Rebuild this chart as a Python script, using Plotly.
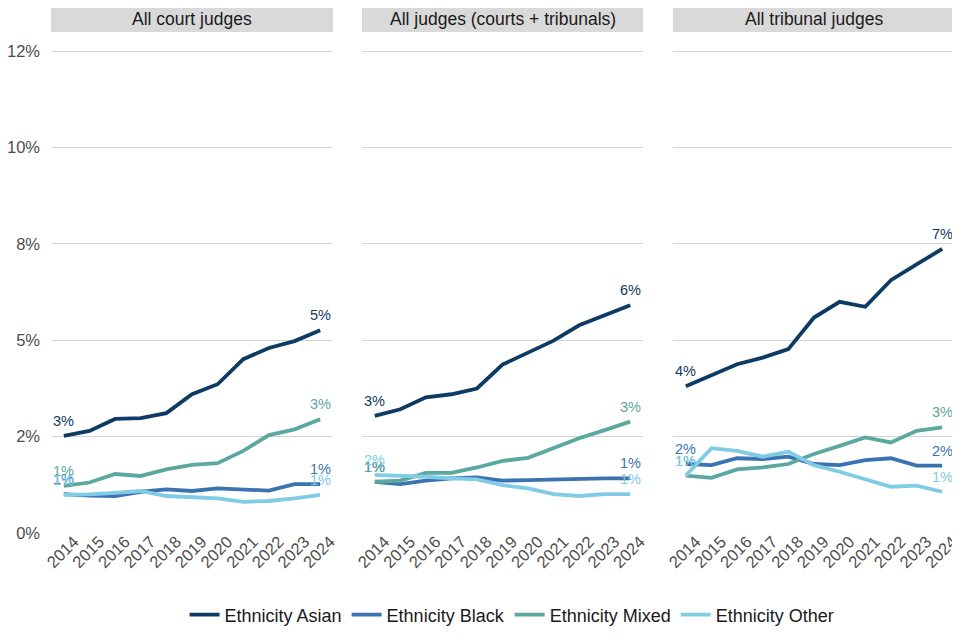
import plotly.graph_objects as go

years = [2014, 2015, 2016, 2017, 2018, 2019, 2020, 2021, 2022, 2023, 2024]
panels = ["All court judges", "All judges (courts + tribunals)", "All tribunal judges"]
series_names = ["Ethnicity Asian", "Ethnicity Black", "Ethnicity Mixed", "Ethnicity Other"]

# values in percent
court_asian = [2.52, 2.65, 2.96, 2.98, 3.11, 3.60, 3.86, 4.51, 4.80, 4.98, 5.26]
court_black = [1.01, 0.97, 0.96, 1.07, 1.13, 1.09, 1.16, 1.13, 1.10, 1.27, 1.27]
court_mixed = [1.22, 1.31, 1.53, 1.48, 1.65, 1.77, 1.81, 2.13, 2.54, 2.69, 2.95]
court_other = [0.99, 1.00, 1.04, 1.09, 0.96, 0.94, 0.90, 0.81, 0.83, 0.90, 0.99]

all_asian = [3.04, 3.21, 3.52, 3.60, 3.75, 4.37, 4.68, 4.99, 5.39, 5.65, 5.91]
all_black = [1.33, 1.27, 1.36, 1.42, 1.44, 1.36, 1.37, 1.39, 1.39, 1.42, 1.42]
all_mixed = [1.33, 1.36, 1.56, 1.56, 1.70, 1.87, 1.95, 2.20, 2.46, 2.67, 2.89]
all_other = [1.51, 1.49, 1.46, 1.42, 1.39, 1.24, 1.16, 1.01, 0.96, 1.01, 1.01]

trib_asian = [3.81, 4.10, 4.38, 4.55, 4.77, 5.59, 6.00, 5.87, 6.56, 6.97, 7.37]
trib_black = [1.79, 1.76, 1.94, 1.92, 1.98, 1.79, 1.76, 1.89, 1.94, 1.75, 1.75]
trib_mixed = [1.49, 1.43, 1.65, 1.70, 1.79, 2.05, 2.26, 2.48, 2.35, 2.65, 2.74]
trib_other = [1.49, 2.20, 2.13, 1.98, 2.11, 1.76, 1.59, 1.39, 1.20, 1.23, 1.07]

y_tickvals = [0, 2.5, 5, 7.5, 10, 12.5]
y_ticktext = ["0%", "2%", "5%", "8%", "10%", "12%"]

colors = ["#0E3B63", "#3B73B1", "#5BA8A0", "#80CBE6"]

data = [
    [court_asian, court_black, court_mixed, court_other],
    [all_asian, all_black, all_mixed, all_other],
    [trib_asian, trib_black, trib_mixed, trib_other],
]

# page body has an 8px margin; lay the figure out in window pixels minus that
OFF = 8
W, H = 960 - OFF, 640 - OFF
ML = 51 - OFF
MT = 32 - OFF
MR = W - (955 - OFF)
MB = H - (533 - OFF)
PW = W - ML - MR
PH = H - MT - MB
px_domains = [(51, 333), (362, 643), (673, 955)]
domains = [((a - OFF - ML) / PW, (b - OFF - ML) / PW) for a, b in px_domains]

FONT = "Liberation Sans, Arial, sans-serif"

fig = go.Figure()
annotations = []
shapes = []

for p, (panel, dom) in enumerate(zip(panels, domains)):
    xa = "x" if p == 0 else f"x{p+1}"
    ya = "y" if p == 0 else f"y{p+1}"
    for s, name in enumerate(series_names):
        vals = data[p][s]
        fig.add_trace(go.Scatter(
            x=years, y=vals, mode="lines", name=name,
            line=dict(color=colors[s], width=3.8),
            xaxis=xa, yaxis=ya, legendgroup=name, showlegend=(p == 0),
            hoverinfo="skip", cliponaxis=False,
        ))
        for idx in (0, -1):
            annotations.append(dict(
                x=years[idx], y=vals[idx], xref=xa, yref=ya,
                text=f"{int(vals[idx] + 0.5)}%", showarrow=False,
                yshift=15, font=dict(size=14.5, color=colors[s], family=FONT),
            ))
    # strip
    shapes.append(dict(type="rect", xref="paper", yref="paper",
                       x0=dom[0], x1=dom[1], y0=1, y1=1 + 27 / PH,
                       fillcolor="#D9D9D9", line=dict(width=0), layer="below"))
    annotations.append(dict(x=(dom[0] + dom[1]) / 2, y=1 + 13.5 / PH, xref="paper", yref="paper",
                            text=panel, showarrow=False, xanchor="center", yanchor="middle",
                            font=dict(size=17.5, color="#1A1A1A", family=FONT)))
    axis_x = dict(domain=list(dom), range=[2013.5, 2024.5], tickvals=years,
                  ticktext=[str(y) for y in years], tickangle=-45, showgrid=False,
                  zeroline=False, showline=False, ticks="", automargin=False,
                  tickfont=dict(size=16.5, color="#4D4D4D", family=FONT),
                  ticklabelshift=10, ticklabelstandoff=-5, ticklabeloverflow="allow",
                  anchor=ya)
    axis_y = dict(range=[0, 13], tickvals=y_tickvals, ticktext=y_ticktext,
                  showgrid=True, gridcolor="#D4D4D4", gridwidth=1, zeroline=False,
                  showline=False, ticks="", showticklabels=(p == 0), automargin=False,
                  tickfont=dict(size=16.5, color="#4D4D4D", family=FONT),
                  anchor=xa, ticklabelstandoff=10)
    if p == 0:
        fig.update_layout(xaxis=axis_x, yaxis=axis_y)
    else:
        fig.update_layout(**{f"xaxis{p+1}": axis_x, f"yaxis{p+1}": axis_y})

fig.update_layout(
    width=W, height=H,
    margin=dict(l=ML, r=MR, t=MT, b=MB, autoexpand=False),
    plot_bgcolor="white", paper_bgcolor="white",
    font=dict(family=FONT),
    annotations=annotations, shapes=shapes,
    legend=dict(orientation="h", x=0.51, xanchor="center", y=(533 - 615) / PH,
                yanchor="middle", font=dict(size=18, color="#1A1A1A", family=FONT),
                itemwidth=30, tracegroupgap=0),
    showlegend=True,
)

fig.write_html("out.html")
